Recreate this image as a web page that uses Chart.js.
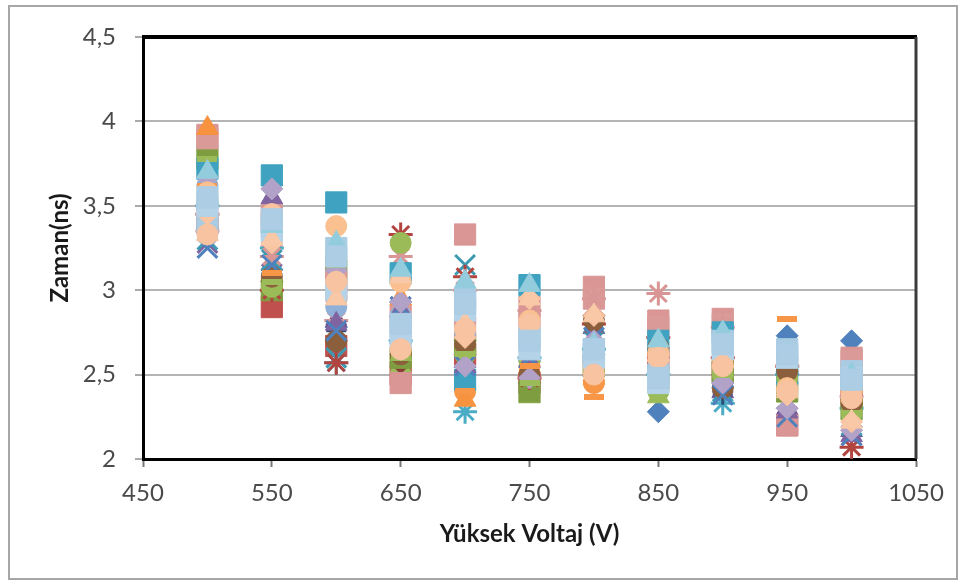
<!DOCTYPE html>
<html>
<head>
<meta charset="utf-8">
<script src="https://cdn.jsdelivr.net/npm/chart.js@4/dist/chart.umd.min.js"></script>
<style>
  html, body { margin: 0; padding: 0; background: #fff; }
  #wrap { position: absolute; left: 0; top: 0; width: 959px; height: 581px; }
</style>
</head>
<body>
<div id="wrap"><canvas id="c" width="959" height="581"></canvas></div>
<script>
// Applied high voltage (V)
const voltages = [500, 550, 600, 650, 700, 750, 800, 850, 900, 950, 1000];

// Measured time (ns), one array per measurement run (drawn in this order)
const seri01 = [3.85, 3.12, 2.78, 2.93, 2.62, 2.58, 2.62, 2.28, 2.45, 2.73, 2.70];
const seri02 = [3.40, 2.90, 2.67, 2.50, 2.62, 2.45, 2.55, 2.60, 2.52, 2.20, 2.35];
const seri03 = [3.55, 3.02, 3.18, 2.55, 2.65, 2.37, 2.48, 2.37, 2.50, 2.45, 2.27];
const seri04 = [3.28, 3.20, 2.85, 2.90, 2.55, 2.50, 2.75, 2.55, 2.45, 2.25, 2.14];
const seri05 = [3.50, 3.25, 2.57, 2.70, 2.28, 2.60, 2.65, 2.50, 2.33, 2.50, 2.30];
const seri06 = [3.45, 3.05, 2.95, 2.60, 2.40, 2.55, 2.45, 2.62, 2.55, 2.42, 2.40];
const seri07 = [3.35, 3.10, 2.76, 2.65, 2.50, 2.62, 2.70, 2.66, 2.38, 2.35, 2.25];
const seri08 = [3.50, 3.05, 2.70, 2.57, 2.70, 2.45, 2.85, 2.60, 2.50, 2.52, 2.35];
const seri09 = [3.78, 3.00, 3.12, 2.60, 2.68, 2.40, 2.55, 2.48, 2.52, 2.40, 2.30];
const seri10 = [3.38, 3.30, 2.82, 2.72, 2.58, 2.52, 2.78, 2.45, 2.40, 2.30, 2.17];
const seri11 = [3.30, 3.18, 2.60, 2.78, 3.15, 2.65, 2.70, 2.72, 2.40, 2.48, 2.20];
const seri12 = [3.45, 3.00, 2.57, 3.33, 3.08, 2.48, 2.80, 2.72, 2.60, 2.55, 2.07];
const seri13 = [3.92, 3.40, 3.00, 2.45, 3.33, 2.90, 3.02, 2.82, 2.83, 2.20, 2.60];
const seri14 = [3.90, 3.45, 3.05, 2.85, 2.78, 2.82, 2.95, 2.78, 2.80, 2.55, 2.58];
const seri15 = [3.35, 3.20, 2.82, 3.20, 3.00, 2.88, 2.95, 2.98, 2.78, 2.55, 2.37];
const seri16 = [3.62, 3.40, 2.90, 2.85, 2.75, 2.70, 2.60, 2.55, 2.65, 2.60, 2.45];
const seri17 = [3.96, 3.35, 3.00, 2.95, 2.35, 2.55, 2.50, 2.55, 2.60, 2.45, 2.38];
const seri18 = [3.72, 3.68, 3.52, 3.10, 2.47, 3.03, 2.62, 2.70, 2.75, 2.50, 2.48];
const seri19 = [3.52, 3.02, 3.20, 3.28, 2.62, 2.58, 2.52, 2.40, 2.50, 2.48, 2.27];
const seri20 = [3.40, 3.55, 2.80, 2.88, 2.55, 2.58, 2.72, 2.52, 2.46, 2.28, 2.14];
const seri21 = [3.48, 3.08, 2.70, 2.62, 2.68, 2.50, 2.82, 2.66, 2.42, 2.52, 2.33];
const seri22 = [3.25, 3.15, 2.76, 2.90, 2.55, 2.60, 2.72, 2.50, 2.38, 2.25, 2.14];
const seri23 = [3.67, 3.60, 3.12, 2.93, 2.55, 2.48, 2.70, 2.45, 2.45, 2.30, 2.17];
const seri24 = [3.62, 3.10, 2.98, 2.62, 2.40, 2.55, 2.37, 2.62, 2.58, 2.83, 2.36];
const seri25 = [3.78, 3.05, 3.15, 2.60, 2.62, 2.45, 2.52, 2.40, 2.50, 2.42, 2.27];
const seri26 = [3.58, 3.45, 3.38, 3.05, 2.77, 2.82, 2.55, 2.63, 2.60, 2.42, 2.40];
const seri27 = [3.40, 3.38, 3.25, 2.78, 2.95, 2.72, 2.65, 2.50, 2.70, 2.65, 2.52];
const seri28 = [3.45, 3.28, 3.05, 2.65, 2.72, 2.95, 2.85, 2.58, 2.55, 2.38, 2.22];
const seri29 = [3.50, 3.35, 3.00, 2.72, 2.88, 2.65, 2.60, 2.45, 2.65, 2.60, 2.48];
const seri30 = [3.33, 3.30, 2.95, 3.08, 2.80, 2.95, 2.85, 2.62, 2.58, 2.40, 2.22];
const seri31 = [3.70, 3.38, 3.28, 3.12, 3.05, 3.03, 2.68, 2.70, 2.75, 2.62, 2.50];
const seri32 = [3.33, 3.45, 3.05, 2.65, 2.77, 2.80, 2.50, 2.60, 2.55, 2.40, 2.36];
const seri33 = [3.55, 3.42, 3.20, 2.80, 2.92, 2.70, 2.65, 2.48, 2.68, 2.62, 2.47];

const seriesData = [seri01, seri02, seri03, seri04, seri05, seri06, seri07, seri08,
  seri09, seri10, seri11, seri12, seri13, seri14, seri15, seri16, seri17, seri18,
  seri19, seri20, seri21, seri22, seri23, seri24, seri25, seri26, seri27, seri28,
  seri29, seri30, seri31, seri32, seri33];

const yTicks = [2, 2.5, 3, 3.5, 4, 4.5];
const xTicks = [450, 550, 650, 750, 850, 950, 1050];

// Short horizontal bar marker (Excel "dash")
function dashMarker(color) {
  const cv = document.createElement('canvas');
  cv.width = 20; cv.height = 6;
  const g = cv.getContext('2d');
  g.fillStyle = color;
  g.fillRect(0, 0, 20, 6);
  return cv;
}

// Marker look of each run: [colour, marker]
const looks = [
  ['#4F81BD', 'rectRot'], ['#C0504D', 'rect'], ['#9BBB59', 'triangle'], ['#8064A2', 'crossRot'],
  ['#4BACC6', 'star'], ['#F79646', 'circle'], ['#2C4D75', 'cross'], ['#8B3A36', 'rectRot'],
  ['#7E9D40', 'rect'], ['#6B5590', 'triangle'], ['#3B9AB2', 'crossRot'], ['#B2443F', 'star'],
  ['#D99694', 'rect'], ['#DA9A98', 'rect'], ['#D99694', 'star'],
  ['#8FB0D8', 'circle'], ['#F7923E', 'triangle'], ['#3FA2C0', 'rect'], ['#9BBB59', 'circle'],
  ['#8064A2', 'triangle'], ['#8B5E3C', 'circle'], ['#4F81BD', 'crossRot'], ['#B3A2C7', 'rectRot'],
  ['#F79646', 'dash'], ['#9BBB59', 'dash'], ['#FAC090', 'circle'], ['#A9CCE3', 'rect'],
  ['#F9C4A2', 'rectRot'], ['#B4D2E8', 'rect'], ['#F9C8A6', 'triangle'],
  ['#93CDDD', 'triangle'], ['#F8C3A0', 'circle'], ['#ACCDE4', 'rect']
];

const sizeOf = { rectRot: 11, rect: 15, triangle: 12.5, crossRot: 14, star: 12, circle: 10.5, cross: 10 };
const lineOnly = { crossRot: true, star: true, cross: true };

const N = seriesData.length;
const datasets = seriesData.map((vals, i) => {
  const [color, marker] = looks[i];
  return {
    label: 'Seri ' + (i + 1),
    data: vals.map((v, k) => ({ x: voltages[k], y: v })),
    showLine: false,
    pointStyle: marker === 'dash' ? dashMarker(color) : marker,
    pointRadius: marker === 'dash' ? 10 : sizeOf[marker],
    pointBackgroundColor: color,
    pointBorderColor: color,
    pointBorderWidth: lineOnly[marker] ? 3 : 1,
    order: N - i
  };
});

const frame = {
  id: 'frame',
  beforeDraw(chart) {
    const ctx = chart.ctx;
    ctx.save();
    ctx.fillStyle = '#fff';
    ctx.fillRect(0, 0, chart.width, chart.height);
    ctx.strokeStyle = '#a6a6a6';
    ctx.lineWidth = 2;
    ctx.strokeRect(9, 6, 948, 573);
    ctx.restore();
  },
  afterDraw(chart) {
    const { ctx, chartArea: a } = chart;
    ctx.save();
    ctx.strokeStyle = '#000';
    ctx.lineWidth = 4;
    ctx.beginPath();
    ctx.moveTo(a.left - 1, a.top);
    ctx.lineTo(a.right + 1, a.top);
    ctx.stroke();
    ctx.strokeStyle = '#3c3c3c';
    ctx.lineWidth = 3;
    ctx.beginPath();
    ctx.moveTo(a.right, a.top);
    ctx.lineTo(a.right, a.bottom);
    ctx.stroke();
    ctx.restore();
  }
};

new Chart(document.getElementById('c'), {
  type: 'scatter',
  data: { datasets },
  plugins: [frame],
  options: {
    responsive: false,
    animation: false,
    events: [],
    layout: { padding: { left: 0, right: 43, top: 37, bottom: 32 } },
    plugins: { legend: { display: false }, tooltip: { enabled: false } },
    scales: {
      x: {
        type: 'linear',
        min: 450, max: 1050,
        afterFit(s) { s.height = 90; },
        afterBuildTicks(s) { s.ticks = xTicks.map(v => ({ value: v })); },
        ticks: { font: { family: 'Lato', size: 24 }, color: '#4a4a4a', padding: 12, callback: v => String(v) },
        grid: { drawOnChartArea: false, drawTicks: true, tickLength: 8, tickColor: '#777', tickWidth: 2 },
        border: { display: true, color: '#000', width: 3 },
        title: { display: true, text: 'Yüksek Voltaj (V)', font: { family: 'Lato', size: 24, weight: 'bold' }, color: '#1a1a1a', padding: { top: 0, bottom: 0 } }
      },
      y: {
        type: 'linear',
        min: 2, max: 4.5,
        afterFit(s) { s.width = 143; },
        afterBuildTicks(s) { s.ticks = yTicks.map(v => ({ value: v })); },
        ticks: {
          font: { family: 'Lato', size: 24 }, color: '#4a4a4a', padding: 19,
          callback: v => String(v).replace('.', ',')
        },
        grid: { color: '#b4b4b4', lineWidth: 2, drawTicks: true, tickLength: 8, tickColor: '#aaa', tickWidth: 2 },
        border: { display: true, color: '#000', width: 3 },
        title: { display: true, text: 'Zaman(ns)', font: { family: 'Lato', size: 24, weight: 'bold' }, color: '#1a1a1a', padding: { top: 46, bottom: 0 } }
      }
    }
  }
});
</script>
</body>
</html>
